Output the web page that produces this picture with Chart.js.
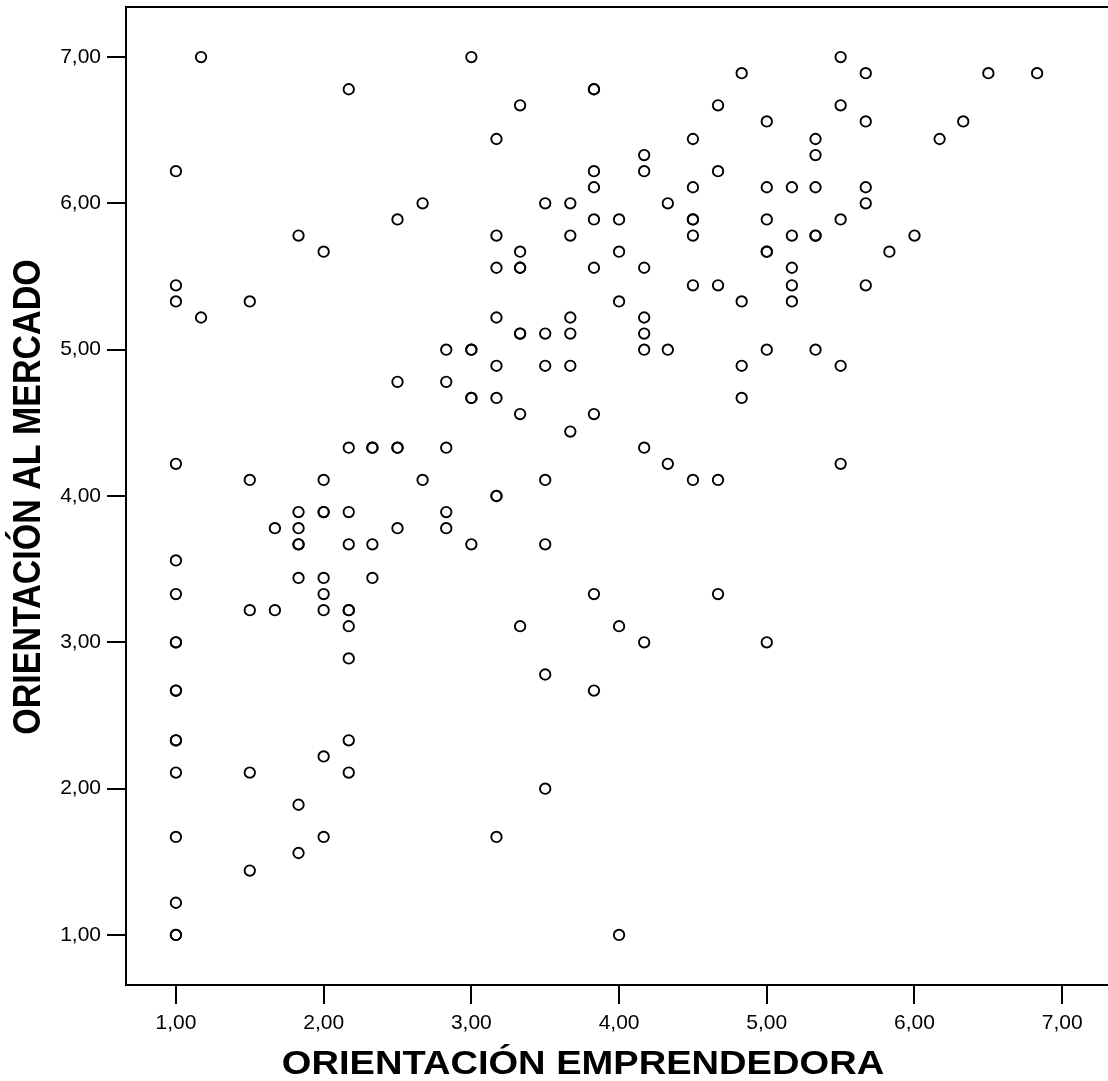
<!DOCTYPE html>
<html>
<head>
<meta charset="utf-8">
<script src="https://cdn.jsdelivr.net/npm/chart.js@4.4.0/dist/chart.umd.min.js"></script>
<style>
  html, body { margin: 0; padding: 0; background: #fff; }
</style>
</head>
<body>
<canvas id="grafico" width="1108" height="1081"></canvas>
<script>
// ticks de los dos ejes
const xTicks = [1, 2, 3, 4, 5, 6, 7];
const yTicks = [1, 2, 3, 4, 5, 6, 7];
const xTickLabels = ['1,00', '2,00', '3,00', '4,00', '5,00', '6,00', '7,00'];
const yTickLabels = ['1,00', '2,00', '3,00', '4,00', '5,00', '6,00', '7,00'];
const tituloX = 'ORIENTACIÓN EMPRENDEDORA';
const tituloY = 'ORIENTACIÓN AL MERCADO';

// puntos, agrupados por columna de x (repetidos = circulos mas gruesos)
const emprendedora = [
  1, 1, 1, 1, 1, 1, 1, 1, 1, 1, 1, 1, 1, 1, 1, 1, 1,
  1.17, 1.17,
  1.5, 1.5, 1.5, 1.5, 1.5,
  1.67, 1.67,
  1.83, 1.83, 1.83, 1.83, 1.83, 1.83, 1.83, 1.83,
  2, 2, 2, 2, 2, 2, 2, 2, 2,
  2.17, 2.17, 2.17, 2.17, 2.17, 2.17, 2.17, 2.17, 2.17, 2.17,
  2.33, 2.33, 2.33, 2.33,
  2.5, 2.5, 2.5, 2.5, 2.5,
  2.67, 2.67,
  2.83, 2.83, 2.83, 2.83, 2.83,
  3, 3, 3, 3, 3, 3,
  3.17, 3.17, 3.17, 3.17, 3.17, 3.17, 3.17, 3.17, 3.17,
  3.33, 3.33, 3.33, 3.33, 3.33, 3.33, 3.33, 3.33,
  3.5, 3.5, 3.5, 3.5, 3.5, 3.5, 3.5,
  3.67, 3.67, 3.67, 3.67, 3.67, 3.67,
  3.83, 3.83, 3.83, 3.83, 3.83, 3.83, 3.83, 3.83, 3.83,
  4, 4, 4, 4, 4,
  4.17, 4.17, 4.17, 4.17, 4.17, 4.17, 4.17, 4.17,
  4.33, 4.33, 4.33,
  4.5, 4.5, 4.5, 4.5, 4.5, 4.5, 4.5,
  4.67, 4.67, 4.67, 4.67, 4.67,
  4.83, 4.83, 4.83, 4.83,
  5, 5, 5, 5, 5, 5, 5,
  5.17, 5.17, 5.17, 5.17, 5.17,
  5.33, 5.33, 5.33, 5.33, 5.33, 5.33,
  5.5, 5.5, 5.5, 5.5, 5.5,
  5.67, 5.67, 5.67, 5.67, 5.67,
  5.83,
  6,
  6.17,
  6.33,
  6.5,
  6.83
];
const mercado = [
  6.22, 5.44, 5.33, 4.22, 3.56, 3.33, 3, 3, 2.67, 2.67, 2.33, 2.33, 2.11, 1.67, 1.22, 1, 1,
  7, 5.22,
  5.33, 4.11, 3.22, 2.11, 1.44,
  3.78, 3.22,
  5.78, 3.89, 3.78, 3.67, 3.67, 3.44, 1.89, 1.56,
  5.67, 4.11, 3.89, 3.89, 3.44, 3.33, 3.22, 2.22, 1.67,
  6.78, 4.33, 3.89, 3.67, 3.22, 3.22, 3.11, 2.89, 2.33, 2.11,
  4.33, 4.33, 3.67, 3.44,
  5.89, 4.78, 4.33, 4.33, 3.78,
  6, 4.11,
  5, 4.78, 4.33, 3.89, 3.78,
  7, 5, 5, 4.67, 4.67, 3.67,
  6.44, 5.78, 5.56, 5.22, 4.89, 4.67, 4, 4, 1.67,
  6.67, 5.67, 5.56, 5.56, 5.11, 5.11, 4.56, 3.11,
  6, 5.11, 4.89, 4.11, 3.67, 2.78, 2,
  6, 5.78, 5.22, 5.11, 4.89, 4.44,
  6.78, 6.78, 6.22, 6.11, 5.89, 5.56, 4.56, 3.33, 2.67,
  5.89, 5.67, 5.33, 3.11, 1,
  6.33, 6.22, 5.56, 5.22, 5.11, 5, 4.33, 3,
  6, 5, 4.22,
  6.44, 6.11, 5.89, 5.89, 5.78, 5.44, 4.11,
  6.67, 6.22, 5.44, 4.11, 3.33,
  6.89, 5.33, 4.89, 4.67,
  6.56, 6.11, 5.89, 5.67, 5.67, 5, 3,
  6.11, 5.78, 5.56, 5.44, 5.33,
  6.44, 6.33, 6.11, 5.78, 5.78, 5,
  7, 6.67, 5.89, 4.89, 4.22,
  6.89, 6.56, 6.11, 6, 5.44,
  5.67,
  5.78,
  6.44,
  6.56,
  6.89,
  6.89
];

const fuente = "'Liberation Sans', Arial, sans-serif";

// linea de arriba del marco + titulos de los ejes (el original tiene las letras algo anchas)
const marcoYTitulos = {
  id: 'marcoYTitulos',
  afterDraw(chart) {
    const ctx = chart.ctx;
    const area = chart.chartArea;
    ctx.save();
    ctx.strokeStyle = '#000';
    ctx.lineWidth = 2;
    ctx.beginPath();
    ctx.moveTo(area.left - 1, area.top);
    ctx.lineTo(chart.width, area.top);
    ctx.stroke();

    ctx.fillStyle = '#000';
    ctx.font = 'bold 34px ' + fuente;
    ctx.textAlign = 'center';
    ctx.textBaseline = 'middle';

    // titulo eje x
    ctx.save();
    ctx.translate(area.left + 457, area.bottom + 80);
    ctx.scale(1.12, 1);
    ctx.fillText(tituloX, 0, 0);
    ctx.restore();

    // titulo eje y
    ctx.save();
    ctx.translate(29, (area.top + area.bottom) / 2 + 1);
    ctx.scale(1.12, 1);
    ctx.rotate(-Math.PI / 2);
    ctx.fillText(tituloY, 0, 0);
    ctx.restore();

    ctx.restore();
  }
};

function ejeComun(ticks, labels, pad) {
  return {
    type: 'linear',
    afterBuildTicks: function(scale) {
      scale.ticks = ticks.map(v => ({ value: v }));
    },
    ticks: {
      autoSkip: false,
      maxRotation: 0,
      color: '#000',
      font: { family: fuente, size: 21 },
      padding: pad,
      callback: function(value, index) {
        return labels[index];
      }
    },
    grid: {
      drawOnChartArea: false,
      drawTicks: true,
      tickLength: 19,
      color: '#000',
      lineWidth: 2
    },
    border: { display: true, color: '#000', width: 2 }
  };
}

const ejeX = ejeComun(xTicks, xTickLabels, 7);
ejeX.min = 0.662;
ejeX.max = 7.31;
ejeX.afterFit = function(scale) {
  scale.height = 96;
  scale.paddingLeft = 0;
  scale.paddingRight = 0;
};

const ejeY = ejeComun(yTicks, yTickLabels, 6);
ejeY.min = 0.658;
ejeY.max = 7.342;
ejeY.afterFit = function(scale) {
  scale.width = 126;
  scale.paddingTop = 0;
  scale.paddingBottom = 0;
};

new Chart(document.getElementById('grafico'), {
  type: 'scatter',
  data: {
    datasets: [{
      label: 'casos',
      data: emprendedora.map((x, i) => ({ x: x, y: mercado[i] })),
      pointStyle: 'circle',
      pointRadius: 5.2,
      pointHoverRadius: 5.2,
      pointBorderWidth: 1.9,
      pointBorderColor: '#000',
      pointBackgroundColor: 'rgba(255,255,255,0)'
    }]
  },
  options: {
    responsive: false,
    animation: false,
    layout: { autoPadding: false, padding: { top: 7, right: 0, bottom: 0, left: 0 } },
    plugins: {
      legend: { display: false },
      tooltip: { enabled: false }
    },
    scales: { x: ejeX, y: ejeY }
  },
  plugins: [marcoYTitulos]
});
</script>
</body>
</html>
